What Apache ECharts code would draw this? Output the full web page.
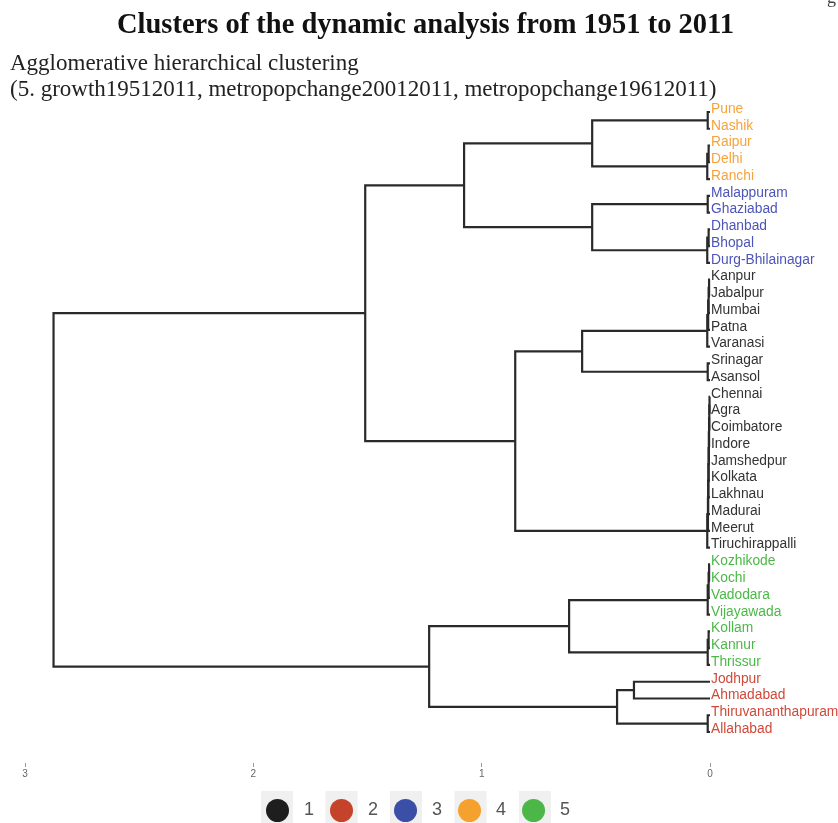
<!DOCTYPE html>
<html><head><meta charset="utf-8">
<script src="https://cdn.jsdelivr.net/npm/echarts@6/dist/echarts.min.js"></script>
<style>html,body{margin:0;padding:0;background:#fff}#c{width:838px;height:823px}</style>
</head><body><div id="c"></div>
<script>
// ---- data ----
const leafLabels = ['Pune','Nashik','Raipur','Delhi','Ranchi','Malappuram','Ghaziabad','Dhanbad','Bhopal','Durg-Bhilainagar',
  'Kanpur','Jabalpur','Mumbai','Patna','Varanasi','Srinagar','Asansol','Chennai','Agra','Coimbatore','Indore','Jamshedpur',
  'Kolkata','Lakhnau','Madurai','Meerut','Tiruchirappalli','Kozhikode','Kochi','Vadodara','Vijayawada','Kollam','Kannur',
  'Thrissur','Jodhpur','Ahmadabad','Thiruvananthapuram','Allahabad'];
const leafCluster = [4,4,4,4,4,3,3,3,3,3,1,1,1,1,1,1,1,1,1,1,1,1,1,1,1,1,1,5,5,5,5,5,5,5,2,2,2,2];
// hclust-style merge table: negative = leaf number (1-based), positive = earlier merge step
const mergeLeft  = [-1,-3, 2,-6,-8, 5,-11, 7, 8, 9,-16,-18,12,13,14,15,16,17,18,19,-28,21,22,-32,24,-35,-37, 1, 4,10,20,28,23,26,32,33,35];
const mergeRight = [-2,-4,-5,-7,-9,-10,-12,-13,-14,-15,-17,-19,-20,-21,-22,-23,-24,-25,-26,-27,-29,-30,-31,-33,-34,-36,-38, 3, 6,11,30,29,25,27,31,34,36];
const mergeHeight = [0.010,0.006,0.012,0.010,0.006,0.012,0.004,0.006,0.008,0.012,0.010,0.002,0.003,0.004,0.005,0.006,0.007,0.008,0.009,0.012,
  0.004,0.006,0.010,0.006,0.010,0.333,0.010,0.516,0.516,0.560,0.853,1.077,0.617,0.407,1.510,1.230,2.875];
const clusterNames = ['1','2','3','4','5'];
const clusterColors = ['#1e1e1e','#c4432a','#3a4fa5','#f4a22d','#4cb748'];
const labelColors = ['#333333','#d0493a','#4d55b8','#f7a33c','#4cb848'];
const xTicks = [0,1,2,3];
</script>
<script>
const nodeY = [], nodeH = [];
function pos(ref){ return ref < 0 ? {y: -ref - 1, h: 0} : {y: nodeY[ref - 1], h: nodeH[ref - 1]}; }
const segments = [];
for (let k = 0; k < mergeHeight.length; k++) {
  const a = pos(mergeLeft[k]), b = pos(mergeRight[k]), h = mergeHeight[k];
  nodeY.push((a.y + b.y) / 2); nodeH.push(h);
  segments.push([a.h, a.y, h, a.y, h, b.y, b.h, b.y]);
}
const leafData = leafLabels.map((n, i) => [0, i, leafCluster[i]]);

const chart = echarts.init(document.getElementById('c'), null, {renderer: 'canvas'});
const legendSeries = clusterNames.map((n, k) => ({
  name: n, type: 'scatter', data: [], itemStyle: {color: clusterColors[k], opacity: 1}, symbol: 'circle'
}));
const keys = clusterNames.map((n, k) => ({type: 'rect', z: -1, shape: {x: 261 + k * 64.5, y: 791, width: 32, height: 34}, style: {fill: '#f0f0f0'}}));
chart.setOption({
  animation: false,
  backgroundColor: '#ffffff',
  title: [
    {text: 'Clusters of the dynamic analysis from 1951 to 2011', left: 112, top: 6,
     textStyle: {fontFamily: 'Liberation Serif', fontWeight: 'bold', fontSize: 28.5, color: '#111'}},
    {text: 'Agglomerative hierarchical clustering\n(5. growth19512011, metropopchange20012011, metropopchange19612011)',
     left: 5, top: 46,
     textStyle: {fontFamily: 'Liberation Serif', fontWeight: 'normal', fontSize: 23, lineHeight: 26, color: '#222'}}
  ],
  legend: {
    data: clusterNames, icon: 'circle', left: 266, top: 799, padding: 0, itemWidth: 23, itemHeight: 23, itemGap: 16,
    textStyle: {color: '#555', fontSize: 18, fontFamily: 'Liberation Sans', padding: [0, 0, 0, 10]}, selectedMode: false
  },
  graphic: [{type: 'text', left: 827, top: -11, style: {text: 'g', font: '18px "Liberation Serif"', fill: '#444'}}].concat(keys),
  grid: {left: 25, right: 128, top: 112, bottom: 91},
  xAxis: {
    type: 'value', inverse: true, min: 0, max: 3, interval: 1, offset: 31,
    axisLine: {show: false, onZero: false}, splitLine: {show: false},
    axisTick: {show: true, length: 4, lineStyle: {color: '#999'}},
    axisLabel: {color: '#666', fontSize: 10, margin: 6, fontFamily: 'Liberation Sans'}
  },
  yAxis: {type: 'value', inverse: true, min: 0, max: leafLabels.length - 1, show: false},
  series: [
    {
      type: 'custom', data: segments, clip: false,
      encode: {x: [0, 2, 4, 6], y: [1, 3, 5, 7]},
      renderItem: function (params, api) {
        const pts = [0, 1, 2, 3].map(j => api.coord([api.value(2 * j), api.value(2 * j + 1)]));
        return {type: 'polyline', shape: {points: pts}, style: {stroke: '#2a2a2a', lineWidth: 2.2, fill: null}};
      }
    },
    {
      type: 'custom', data: leafData, clip: false,
      encode: {x: 0, y: 1},
      renderItem: function (params, api) {
        const c = api.coord([api.value(0), api.value(1)]);
        const cl = api.value(2);
        return {type: 'text', x: c[0] + 1, y: c[1] - 3,
          style: {text: leafLabels[params.dataIndex], fill: labelColors[cl - 1],
            font: '13.8px "Liberation Sans"', align: 'left', verticalAlign: 'middle'}};
      }
    }
  ].concat(legendSeries)
});
</script>
</body></html>
